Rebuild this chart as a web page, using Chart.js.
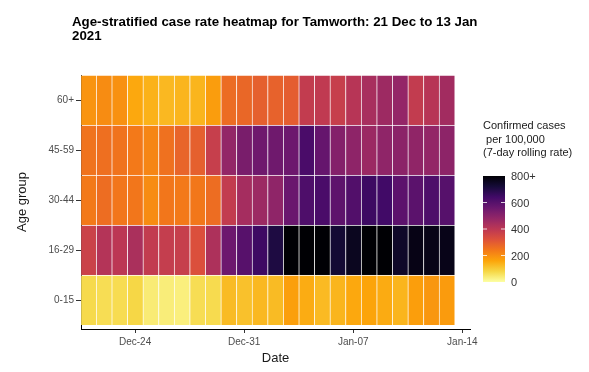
<!DOCTYPE html>
<html>
<head>
<meta charset="utf-8">
<script src="https://cdn.jsdelivr.net/npm/chart.js@4.4.0/dist/chart.umd.min.js"></script>
<style>
  html, body { margin: 0; padding: 0; background: #fff; }
</style>
</head>
<body>
<canvas id="heatmap" width="589" height="372"></canvas>
<script>
// Age groups, bottom to top
const ageGroups = ['0-15', '16-29', '30-44', '45-59', '60+'];

// One column per day, 21 Dec 2020 to 13 Jan 2021
const days = ['Dec-21', 'Dec-22', 'Dec-23', 'Dec-24', 'Dec-25', 'Dec-26', 'Dec-27', 'Dec-28',
  'Dec-29', 'Dec-30', 'Dec-31', 'Jan-01', 'Jan-02', 'Jan-03', 'Jan-04', 'Jan-05', 'Jan-06',
  'Jan-07', 'Jan-08', 'Jan-09', 'Jan-10', 'Jan-11', 'Jan-12', 'Jan-13'];

// Tick positions (day index) and their labels on the date axis
const dateTickIdx = [3, 10, 17, 24];
const dateTickLabels = ['Dec-24', 'Dec-31', 'Jan-07', 'Jan-14'];

// Case rates per 100,000 (7-day rolling), estimated from the colours
const rate0to15 = [75, 68, 70, 80, 40, 37, 33, 68, 72, 125, 115, 130, 125, 170, 148, 127, 135, 155, 162, 150, 135, 172, 185, 177];
const rate16to29 = [365, 415, 400, 435, 385, 380, 375, 325, 430, 555, 598, 648, 705, 850, 850, 850, 728, 760, 850, 850, 745, 775, 772, 770];
const rate30to44 = [238, 262, 245, 245, 205, 245, 238, 242, 262, 385, 445, 462, 488, 560, 615, 625, 585, 608, 650, 642, 588, 590, 615, 600];
const rate45to59 = [250, 258, 250, 238, 215, 255, 280, 290, 375, 480, 530, 550, 550, 555, 625, 570, 510, 490, 465, 488, 495, 485, 480, 492];
const rate60plus = [190, 205, 195, 155, 140, 130, 135, 135, 175, 265, 275, 290, 285, 295, 385, 390, 375, 410, 440, 460, 478, 385, 410, 450];

const rates = [rate0to15, rate16to29, rate30to44, rate45to59, rate60plus];

// Colour scale ticks
const scaleMax = 800;
const scaleTicks = [0, 200, 400, 600, 800];
const scaleTickLabels = ['0', '200', '400', '600', '800+'];

const titleLines = ['Age-stratified case rate heatmap for Tamworth: 21 Dec to 13 Jan', '2021'];
const legendTitleLines = ['Confirmed cases', ' per 100,000', '(7-day rolling rate)'];

// inferno palette, reversed when used (0 = light yellow, 800 = black)
const inferno = ['#000004', '#160b39', '#420a68', '#6a176e', '#932667', '#bc3754',
  '#dd513a', '#f37819', '#fca50a', '#f6d746', '#fcffa4'];

function hexToRgb(h) {
  return [parseInt(h.slice(1, 3), 16), parseInt(h.slice(3, 5), 16), parseInt(h.slice(5, 7), 16)];
}

function rateColour(v) {
  const t = 1 - Math.min(Math.max(v, 0), scaleMax) / scaleMax;
  const pos = t * (inferno.length - 1);
  const i = Math.min(Math.floor(pos), inferno.length - 2);
  const f = pos - i;
  const a = hexToRgb(inferno[i]), b = hexToRgb(inferno[i + 1]);
  const c = a.map((x, k) => Math.round(x + (b[k] - x) * f));
  return `rgb(${c[0]}, ${c[1]}, ${c[2]})`;
}

const FONT = '"Liberation Sans", Arial, sans-serif';

// Title and colour bar legend
const extrasPlugin = {
  id: 'extras',
  afterDraw(chart) {
    const ctx = chart.ctx;
    ctx.save();
    ctx.fillStyle = '#000';
    ctx.textAlign = 'left';
    ctx.textBaseline = 'alphabetic';
    ctx.font = 'bold 13.3px ' + FONT;
    titleLines.forEach((line, k) => ctx.fillText(line, 72, 26 + k * 14));

    ctx.font = '11px ' + FONT;
    ctx.fillStyle = '#1a1a1a';
    legendTitleLines.forEach((line, k) => ctx.fillText(line, 483, 129 + k * 13.5));

    // colour bar
    const left = 483, width = 22, top = 176, bottom = 282;
    const grad = ctx.createLinearGradient(0, bottom, 0, top);
    for (let k = 0; k <= 20; k++) {
      grad.addColorStop(k / 20, rateColour(scaleMax * k / 20));
    }
    ctx.fillStyle = grad;
    ctx.fillRect(left, top, width, bottom - top);

    ctx.font = '11px ' + FONT;
    ctx.textBaseline = 'middle';
    scaleTicks.forEach((v, k) => {
      const y = bottom - (bottom - top) * v / scaleMax;
      if (v > 0 && v < scaleMax) {
        ctx.strokeStyle = 'rgba(255,255,255,0.8)';
        ctx.lineWidth = 1;
        ctx.beginPath();
        ctx.moveTo(left, y); ctx.lineTo(left + 4, y);
        ctx.moveTo(left + width - 4, y); ctx.lineTo(left + width, y);
        ctx.stroke();
      }
      ctx.fillStyle = '#333';
      ctx.fillText(scaleTickLabels[k], 511, y + 1);
    });
    ctx.restore();
  }
};

const datasets = ageGroups.map((group, i) => ({
  label: group,
  data: rates[i].map((v, j) => ({ x: j, y: [i, i + 1], rate: v })),
  backgroundColor: rates[i].map(v => rateColour(v)),
  borderColor: 'rgba(255,255,255,0.3)',
  borderWidth: { left: 1, top: 1, right: 0, bottom: 0 },
  borderSkipped: false,
  grouped: false,
  barPercentage: 1,
  categoryPercentage: 1
}));

new Chart(document.getElementById('heatmap'), {
  type: 'bar',
  data: { datasets: datasets },
  options: {
    responsive: false,
    animation: false,
    layout: { padding: { left: 0, top: 75, right: 119, bottom: 0 } },
    plugins: {
      legend: { display: false },
      title: { display: false },
      tooltip: {
        callbacks: {
          title: items => days[items[0].raw.x],
          label: item => `${item.dataset.label}: ${item.raw.rate}`
        }
      }
    },
    scales: {
      x: {
        type: 'linear',
        offset: false,
        min: -0.47,
        max: 24.49,
        afterFit: s => { s.height = 43; },
        afterBuildTicks: s => { s.ticks = dateTickIdx.map(v => ({ value: v })); },
        ticks: {
          callback: (v, idx) => dateTickLabels[idx],
          color: '#4d4d4d',
          font: { family: FONT, size: 10 },
          padding: 3,
          maxRotation: 0
        },
        grid: { offset: false, drawOnChartArea: false, tickLength: 4, tickColor: '#333' },
        border: { display: true, color: '#000', width: 1 },
        title: {
          display: true,
          text: 'Date',
          color: '#1a1a1a',
          font: { family: FONT, size: 13 },
          padding: { top: 0, bottom: 6 }
        }
      },
      y: {
        type: 'linear',
        min: -0.08,
        max: 5,
        afterFit: s => { s.width = 81; },
        afterBuildTicks: s => { s.ticks = ageGroups.map((g, i) => ({ value: i + 0.5 })); },
        ticks: {
          callback: (v, idx) => ageGroups[idx],
          color: '#4d4d4d',
          font: { family: FONT, size: 10 },
          padding: 2
        },
        grid: { drawOnChartArea: false, tickLength: 5, tickColor: '#333' },
        border: { display: true, color: '#000', width: 1 },
        title: {
          display: true,
          text: 'Age group',
          color: '#1a1a1a',
          font: { family: FONT, size: 13 },
          padding: { top: 15, bottom: 0 }
        }
      }
    }
  },
  plugins: [extrasPlugin]
});
</script>
</body>
</html>
